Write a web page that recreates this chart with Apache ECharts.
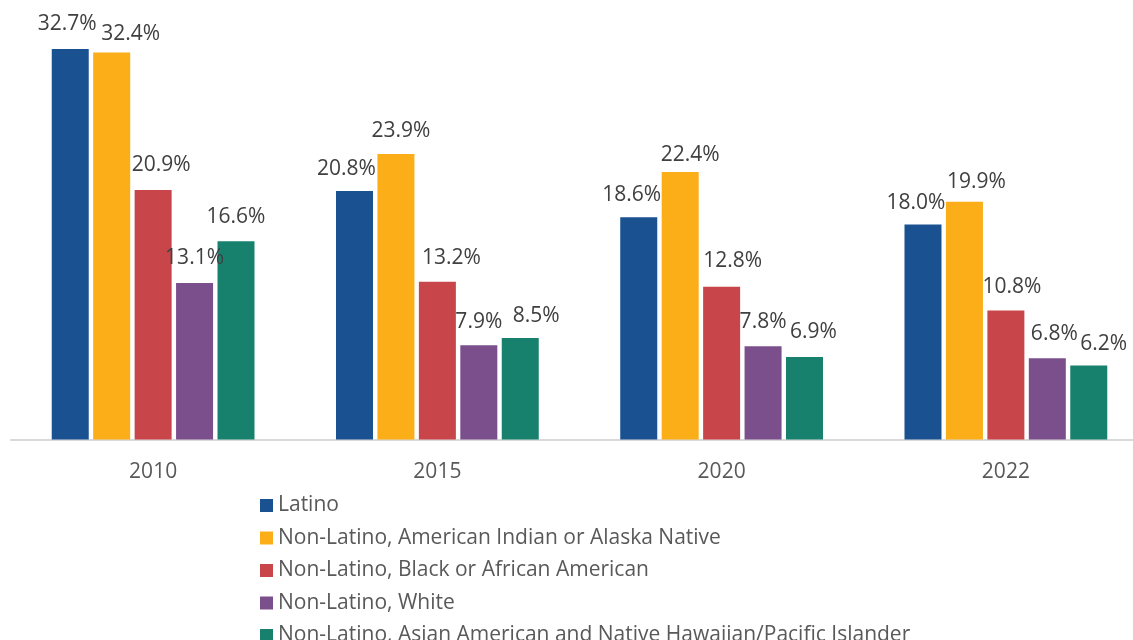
<!DOCTYPE html>
<html lang="en">
<head>
    <meta charset="UTF-8">
    <title>Share by group, 2010-2022</title>
    <script src="https://cdn.jsdelivr.net/npm/echarts@6/dist/echarts.min.js"></script>
    <style>
        html, body { margin: 0; padding: 0; background: #fff; }
        #chart { width: 1133px; height: 640px; }
    </style>
</head>
<body>
    <div id="chart"></div>

    <script>
        // categories + series values (percent)
        var years = ['2010', '2015', '2020', '2022'];
        var groups = [
            'Latino',
            'Non-Latino, American Indian or Alaska Native',
            'Non-Latino, Black or African American',
            'Non-Latino, White',
            'Non-Latino, Asian American and Native Hawaiian/Pacific Islander'
        ];
        var latino = [32.7, 20.8, 18.6, 18.0];
        var aian = [32.4, 23.9, 22.4, 19.9];
        var black = [20.9, 13.2, 12.8, 10.8];
        var white = [13.1, 7.9, 7.8, 6.8];
        var asian = [16.6, 8.5, 6.9, 6.2];

        var colors = ['#1a5190', '#fbae17', '#c8454a', '#7a4f8b', '#18816e'];

        // the label nudges the original (Excel) applied to dodge each other
        var labelDx = [[-3, -8, -7, -7], [19, 5, 10, 12], [8, 14, 11, 6], [0, 0, 0, 7], [0, 16, 9, 15]];
        var labelDy = [[-1, 1, 1, 2], [5, 0, 7, 4], [-1, 0, -2, 0], [-2, 0, -1, -1], [-1, 2, -2, 2]];

        var font = '"Open Sans", "Liberation Sans", sans-serif';
        var chart = echarts.init(document.getElementById('chart'));

        var allValues = [latino, aian, black, white, asian];
        var series = allValues.map(function (vals, s) {
            return {
                name: groups[s],
                type: 'bar',
                barWidth: 37,
                barGap: '12%',
                itemStyle: { color: colors[s] },
                label: {
                    show: true,
                    position: 'top',
                    distance: 13,
                    fontFamily: font,
                    fontSize: 21,
                    color: '#404040',
                    formatter: function (p) { return p.value.toFixed(1) + '%'; }
                },
                data: vals.map(function (v, i) {
                    return { value: v, label: { offset: [labelDx[s][i], labelDy[s][i]] } };
                })
            };
        });

        var option = {
            animation: false,
            // plot runs past the right edge, like the cropped original
            grid: { left: 11, right: -15, top: 21.5, bottom: 200.5, outerBoundsMode: 'none', containLabel: false },
            xAxis: {
                type: 'category',
                data: years,
                axisLine: { lineStyle: { color: '#d9d9d9', width: 2 } },
                axisTick: { show: false },
                axisLabel: { fontFamily: font, fontSize: 21, color: '#595959', margin: 22 }
            },
            yAxis: {
                type: 'value',
                min: 0,
                max: 35,
                show: false,
                splitLine: { show: false }
            },
            legend: {
                orient: 'vertical',
                left: 255,
                top: 490,
                height: 300,
                itemWidth: 13,
                itemHeight: 13,
                itemGap: 11.5,
                icon: 'rect',
                textStyle: { fontFamily: font, fontSize: 21, lineHeight: 21, color: '#595959' },
                data: groups
            },
            series: series
        };

        chart.setOption(option);
    </script>
</body>
</html>
